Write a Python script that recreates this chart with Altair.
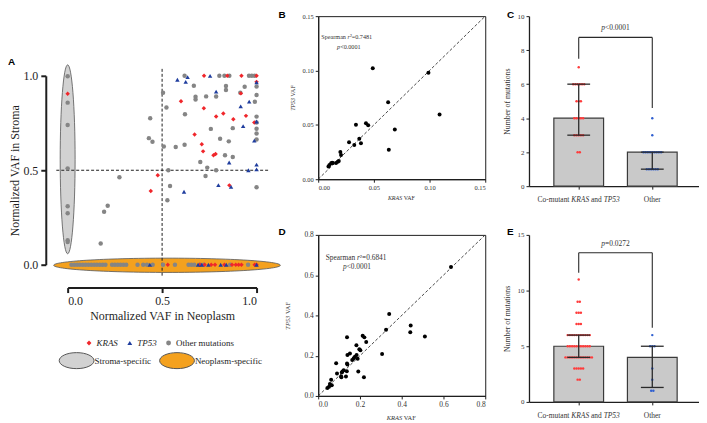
import altair as alt
import pandas as pd

SERIF = "Liberation Serif"
SANS = "Liberation Sans"
INK = "#1e1e1e"
TXT = "#333333"

# ======================= DATA =======================
# ---- Panel A : normalized VAF (neoplasm, stroma) ----
a_kras_x = [0.0, 0.722, 0.845, 0.92, 1.0, 1.0, 0.917, 0.60, 0.721, 0.786, 0.824, 0.877, 0.944, 0.988,
            0.672, 0.71, 0.717, 0.772, 0.783, 0.477, 0.44, 0.856,
            0.53, 0.70, 0.725, 0.76, 0.78, 0.83, 0.87, 0.89, 0.905, 0.92, 0.99, 1.0]
a_kras_y = [0.905, 1.0, 1.0, 1.0, 1.0, 0.968, 0.907, 0.865, 0.828, 0.785, 0.80, 0.77, 0.788, 0.753,
            0.689, 0.638, 0.60, 0.579, 0.586, 0.474, 0.39, 0.42,
            0.0, 0.0, 0.0, 0.0, 0.0, 0.0, 0.0, 0.0, 0.0, 0.0, 0.0, 0.0]
a_tp53_x = [0.581, 0.635, 0.625, 0.754, 1.0, 0.786, 0.916, 0.961, 0.929, 1.0, 0.988, 0.855, 0.957,
            1.0, 1.0, 0.798, 0.865, 0.616,
            0.435, 0.69, 0.71, 0.745, 0.81, 0.84, 1.0]
a_tp53_y = [0.979, 0.993, 0.968, 1.0, 0.965, 0.916, 0.838, 0.863, 0.734, 0.758, 0.657, 0.541, 0.5,
            0.53, 0.505, 0.421, 0.412, 0.386,
            0.0, 0.0, 0.0, 0.0, 0.0, 0.0, 0.0]
a_other_x = [0.0, 0.0, 0.0, 0.0, 0.0, 0.0, 0.0, 0.0,
             0.619, 0.803, 0.83, 0.856, 0.96, 0.975, 0.99, 0.668, 1.0, 0.937, 0.838, 0.838,
             0.786, 0.733, 0.677, 0.677, 0.505, 0.914, 1.0, 0.523, 0.991, 0.621, 1.0, 1.0,
             1.0, 1.0, 1.0, 0.874, 0.758, 0.807, 0.853, 0.437, 0.43, 0.449, 0.509, 0.572,
             0.619, 0.702, 0.833, 0.874, 0.739, 0.786, 0.73, 0.533, 0.274, 0.542, 0.528, 1.0,
             0.212, 0.193, 0.175,
             0.02, 0.035, 0.05, 0.065, 0.08, 0.095, 0.11, 0.125, 0.14, 0.155, 0.17, 0.185, 0.2,
             0.235, 0.25, 0.265, 0.28, 0.295, 0.31, 0.37, 0.40, 0.42, 0.45, 0.505, 0.568, 0.64,
             0.655, 0.67, 0.70, 0.72, 0.86, 0.955]
a_other_y = [0.998, 0.858, 0.74, 0.51, 0.31, 0.272, 0.13, 0.12,
             1.0, 1.0, 1.0, 1.0, 1.0, 1.0, 1.0, 0.947, 0.943, 0.942, 0.946, 0.925,
             0.89, 0.891, 0.889, 0.875, 0.91, 0.91, 0.898, 0.832, 0.863, 0.796, 0.784, 0.753,
             0.72, 0.695, 0.663, 0.723, 0.719, 0.667, 0.653, 0.775, 0.67, 0.651, 0.626, 0.623,
             0.635, 0.544, 0.579, 0.57, 0.514, 0.5, 0.47, 0.5, 0.463, 0.417, 0.341, 0.41,
             0.312, 0.28, 0.112,
             0.0, 0.0, 0.0, 0.0, 0.0, 0.0, 0.0, 0.0, 0.0, 0.0, 0.0, 0.0, 0.0,
             0.0, 0.0, 0.0, 0.0, 0.0, 0.0, 0.0, 0.0, 0.0, 0.0, 0.0, 0.0, 0.0,
             0.0, 0.0, 0.0, 0.0, 0.0, 0.0]
a_types = ["KRAS", "TP53", "Other mutations"]
a_kinds = ["Stroma-specific", "Neoplasm-specific"]
a_kind_center_x = [0.0, 0.526]
a_kind_center_y = [0.558, -0.003]
a_ticks = [0.0, 0.5, 1.0]
a_hline = [-0.06, 1.068, 0.5]     # x from, x to, y
a_vline = [0.5, -0.058, 1.042]    # x, y from, y to

# ---- Panel B : VAF KRAS vs TP53 ----
b_kras = [0.049, 0.099, 0.109, 0.0628, 0.0688, 0.0634, 0.0339, 0.0429, 0.0449, 0.0369, 0.0384,
          0.0324, 0.0277, 0.0199, 0.0205, 0.0185, 0.0176, 0.016, 0.0131, 0.0125, 0.0116, 0.0101, 0.0092]
b_tp53 = [0.102, 0.098, 0.0595, 0.0708, 0.0458, 0.027, 0.050, 0.0515, 0.0497, 0.0372, 0.033,
          0.0315, 0.0339, 0.025, 0.0223, 0.0168, 0.0161, 0.0149, 0.0149, 0.0152, 0.0146, 0.0131, 0.0116]
b_ticks = [0.0, 0.05, 0.10, 0.15]
b_stats = ["0.7481", "<0.0001"]

# ---- Panel D ----
d_kras = [0.636, 0.340, 0.443, 0.441, 0.511, 0.325, 0.306, 0.138, 0.213, 0.221, 0.230, 0.183, 0.197,
          0.202, 0.152, 0.140, 0.176, 0.184, 0.170, 0.189, 0.163, 0.138, 0.140, 0.086, 0.192, 0.219,
          0.137, 0.122, 0.116, 0.113, 0.090, 0.133, 0.110, 0.111, 0.062, 0.056, 0.065, 0.052, 0.044]
d_tp53 = [0.640, 0.407, 0.350, 0.316, 0.295, 0.329, 0.208, 0.292, 0.299, 0.291, 0.268, 0.252, 0.232,
          0.227, 0.211, 0.203, 0.195, 0.203, 0.187, 0.185, 0.179, 0.161, 0.156, 0.163, 0.121, 0.093,
          0.123, 0.128, 0.121, 0.117, 0.112, 0.097, 0.097, 0.093, 0.080, 0.059, 0.053, 0.046, 0.040]
d_ticks = [0.0, 0.2, 0.4, 0.6, 0.8]
d_stats = ["0.6841", "<0.0001"]

# ---- Panel C : number of mutations ----
c_bar = [4, 2]
c_err_lo = [3, 1]
c_err_hi = [6, 2]
c_comut = [7, 6, 6, 6, 6, 6, 6, 5, 5, 5, 4, 4, 4, 4, 4, 3, 3, 3, 3, 3, 2, 2]
c_other = [4, 3, 2, 2, 2, 2, 2, 2, 2, 2, 2, 1, 1, 1, 1, 1, 1]
c_bracket = [8.75, 7.5, 4.6]      # top, left end, right end
c_p = "<0.0001"
c_ticks = [0, 2, 4, 6, 8, 10]

# ---- Panel E ----
e_bar = [5, 4]
e_err_lo = [4, 1.3]
e_err_hi = [6, 5]
e_comut = [11, 9, 9, 8, 8, 8, 7, 7, 7,
           6, 6, 6, 6, 6, 6, 6, 6, 6, 6, 6,
           5, 5, 5, 5, 5, 5, 5, 5, 5, 5, 5,
           4, 4, 4, 4, 4, 4, 4, 4, 4, 4, 4, 4, 4,
           3, 3, 3, 3, 3, 2, 2]
e_other = [6, 5, 5, 5, 3, 2, 1, 1]
e_bracket = [13.4, 11.6, 6.66]
e_p = "=0.0272"
e_ticks = [0, 5, 10, 15]

# ======================= HELPERS =======================
TIMES = {' ': 250, '-': 333, '.': 250, '<': 564, '=': 564, '\u00b2': 300,
         'A': 722, 'C': 667, 'F': 556, 'K': 722, 'N': 722, 'O': 722, 'P': 556, 'R': 667,
         'S': 556, 'T': 611, 'V': 722,
         'a': 444, 'b': 500, 'd': 500, 'e': 444, 'f': 333, 'h': 500, 'i': 278, 'l': 278,
         'm': 778, 'n': 500, 'o': 500, 'p': 500, 'r': 333, 's': 389, 't': 278, 'u': 500, 'z': 444}
TIMES_I = {'K': 667, 'R': 611, 'A': 611, 'S': 500, 'T': 556, 'P': 611, 'r': 389, 'p': 500}


def tw(s, size, italic=False):
    tot = 0
    for ch in s:
        if italic and ch in TIMES_I:
            tot += TIMES_I[ch]
        elif ch.isdigit():
            tot += 500
        else:
            tot += TIMES.get(ch, 500)
    return tot * size / 1000.0


ONE = pd.DataFrame({"k": [0]})


def rich(pieces, size, x, y, data=ONE, color=TXT, angle=0):
    total = sum(tw(t, size, it) for t, it in pieces)
    off = -total / 2.0
    out = []
    for t, it in pieces:
        lead = len(t) - len(t.lstrip(" "))
        core = t.strip(" ")
        start = off + tw(" " * lead, size)
        out.append(alt.Chart(data).mark_text(
            text=core, align="left", baseline="middle", dx=start, angle=angle,
            font=SERIF, fontSize=size, fontStyle=("italic" if it else "normal"), color=color
        ).encode(x=x, y=y))
        off += tw(t, size, it)
    return out


def letter(ch, px, py):
    return alt.Chart(ONE).mark_text(text=ch, align="left", baseline="top", font=SANS,
                                    fontWeight="bold", fontSize=10, color="black").encode(
        x=alt.value(px), y=alt.value(py))


# ======================= PANEL A =======================
A_W, A_H = 208, 171
SXA = alt.Scale(domain=[0, 1], range=[0, 190], nice=False, zero=False)
SYA = alt.Scale(domain=[0, 1], range=[250, 60], nice=False, zero=False)
AXA_X = alt.Axis(values=a_ticks, format=".1f", offset=250 - A_H + 23, title="Normalized VAF in Neoplasm",
                 titleFont=SERIF, titleFontSize=12, titleFontWeight="normal", titleColor=INK,
                 titlePadding=4, labelFont=SERIF, labelFontSize=12, labelColor=INK, labelPadding=3,
                 tickSize=5, tickWidth=2, tickColor=INK, domainWidth=2, domainColor=INK, grid=False)
AXA_Y = alt.Axis(values=a_ticks, format=".1f", offset=22, title="Normalized VAF in Stroma",
                 titleFont=SERIF, titleFontSize=12, titleFontWeight="normal", titleColor=INK,
                 titlePadding=1, labelFont=SERIF, labelFontSize=12, labelColor=INK, labelPadding=3,
                 tickSize=5, tickWidth=2, tickColor=INK, domainWidth=2, domainColor=INK, grid=False)


def xa(f):
    return alt.X(f, type="quantitative", scale=SXA, axis=AXA_X)


def ya(f):
    return alt.Y(f, type="quantitative", scale=SYA, axis=AXA_Y)


pts = pd.concat([
    pd.DataFrame({"x": a_other_x, "y": a_other_y, "type": "Other mutations"}),
    pd.DataFrame({"x": a_kras_x, "y": a_kras_y, "type": "KRAS"}),
    pd.DataFrame({"x": a_tp53_x, "y": a_tp53_y, "type": "TP53"}),
], ignore_index=True)

ell = pd.DataFrame({"x": a_kind_center_x, "y": a_kind_center_y, "kind": a_kinds})
PATH_V = "M0,-1 A0.079,1 0 1,1 0,1 A0.079,1 0 1,1 0,-1 Z"
PATH_H = "M-1,0 A1,0.063 0 1,1 1,0 A1,0.063 0 1,1 -1,0 Z"
PATH_LEG = "M-1,0 A1,0.46 0 1,1 1,0 A1,0.46 0 1,1 -1,0 Z"

FILL_SCALE = alt.Scale(domain=a_kinds, range=["#d2d2d2", "#f4a11e"])
LEG_ELL = alt.Legend(orient="none", legendX=-9, legendY=328, direction="horizontal", title=None,
                     symbolType=PATH_LEG, symbolSize=1225, symbolStrokeColor="#555555",
                     symbolStrokeWidth=1, symbolOpacity=1, labelFont=SERIF, labelFontSize=9,
                     labelColor=INK, labelOffset=0, columnPadding=6, padding=0)

ell_v = alt.Chart(ell.iloc[[0]]).mark_point(shape=PATH_V, size=36100, filled=True, opacity=1,
                                            stroke="#555555", strokeWidth=0.8).encode(
    x=xa("x"), y=ya("y"), fill=alt.Fill("kind:N", scale=FILL_SCALE, legend=LEG_ELL))
ell_h = alt.Chart(ell.iloc[[1]]).mark_point(shape=PATH_H, size=51984, filled=True, opacity=1,
                                            stroke="#555555", strokeWidth=0.8).encode(
    x=xa("x"), y=ya("y"), fill=alt.Fill("kind:N", scale=FILL_SCALE, legend=LEG_ELL))

hl = alt.Chart(pd.DataFrame({"x": [a_hline[0]], "x2": [a_hline[1]], "y": [a_hline[2]]})).mark_rule(
    color=INK, strokeDash=[3, 2], strokeWidth=1).encode(x=xa("x"), x2="x2", y=ya("y"))
vl = alt.Chart(pd.DataFrame({"x": [a_vline[0]], "y": [a_vline[1]], "y2": [a_vline[2]]})).mark_rule(
    color=INK, strokeDash=[3, 2], strokeWidth=1).encode(x=xa("x"), y=ya("y"), y2="y2")

LEG_PTS = alt.Legend(orient="none", legendX=17, legendY=324, direction="horizontal", title=None,
                     symbolSize=24, labelFont=SERIF, labelFontSize=9, labelColor=INK,
                     labelFontWeight="normal",
                     labelFontStyle=alt.ExprRef("datum.label == 'Other mutations' ? 'normal' : 'italic'"),
                     labelOffset=3, columnPadding=7, padding=0)
points = alt.Chart(pts).mark_point(filled=True, opacity=1, size=20).encode(
    x=xa("x"), y=ya("y"),
    color=alt.Color("type:N", scale=alt.Scale(domain=a_types, range=["#f0262b", "#1f3d9e", "#858585"]),
                    legend=LEG_PTS),
    shape=alt.Shape("type:N", scale=alt.Scale(domain=a_types, range=["diamond", "triangle-up", "circle"]),
                    legend=LEG_PTS),
)

panelA = alt.layer(ell_v, ell_h, hl, vl, points, letter("A", -60, 41)).properties(width=A_W, height=A_H)


# ======================= PANELS B / D =======================
def scatter_panel(kx, ty, dmax, ticks, fmt, W, H, lab_size, title_size, ann_size,
                  ann_xy1, ann_xy2, stats, xt_dy, yt_dx, let, let_dy):
    S = alt.Scale(domain=[0, dmax], nice=False, zero=False)
    SY = alt.Scale(domain=[0, dmax], nice=False, zero=False)
    AX = alt.Axis(values=ticks, format=fmt, title=None, labelFont=SERIF, labelFontSize=lab_size,
                  labelColor=TXT, labelPadding=2, tickSize=3, tickColor=INK, domainColor=INK,
                  domainWidth=1.2, grid=False)

    def X(f):
        return alt.X(f, type="quantitative", scale=S, axis=AX)

    def Y(f):
        return alt.Y(f, type="quantitative", scale=SY, axis=AX)

    df = pd.DataFrame({"k": kx, "t": ty})
    diag = alt.Chart(pd.DataFrame({"x": [0.0], "y": [0.0], "x2": [dmax], "y2": [dmax]})).mark_rule(
        color="#333333", strokeDash=[3, 2], strokeWidth=0.9).encode(x=X("x"), y=Y("y"), x2="x2", y2="y2")
    dots = alt.Chart(df).mark_circle(size=16, color="black", opacity=1).encode(x=X("k"), y=Y("t"))
    a1 = pd.DataFrame({"x": [ann_xy1[0]], "y": [ann_xy1[1]]})
    a2 = pd.DataFrame({"x": [ann_xy2[0]], "y": [ann_xy2[1]]})
    layers = [diag, dots]
    layers += rich([("Spearman ", False), ("r", True), ("\u00b2=" + stats[0], False)], ann_size,
                   X("x"), Y("y"), data=a1)
    layers += rich([("p", True), (stats[1], False)], ann_size, X("x"), Y("y"), data=a2)
    layers += rich([("KRAS", True), (" VAF", False)], title_size, alt.value(W / 2), alt.value(H + xt_dy))
    layers += rich([("TP53", True), (" VAF", False)], title_size, alt.value(yt_dx), alt.value(H / 2),
                   angle=270)
    layers.append(letter(let, -40, let_dy))
    return alt.layer(*layers).properties(width=W, height=H,
                                         view=alt.ViewBackground(stroke=INK, strokeWidth=1))


panelB = scatter_panel(b_kras, b_tp53, 0.15, b_ticks, ".2f", 168, 164, 6.5, 6, 6.2,
                       (0.0262, 0.131), (0.0275, 0.122), b_stats, 19, -25, "B", -6)
panelD = scatter_panel(d_kras, d_tp53, 0.8, d_ticks, ".1f", 168, 162, 7.5, 6.5, 7.4,
                       (0.185, 0.684), (0.186, 0.639), d_stats, 22, -30, "D", -8)


# ======================= PANELS C / E =======================
def bar_panel(bar, lo, hi, comut, other, ymax, yticks, bracket, ptxt, W, H, let, let_dy):
    S = alt.Scale(domain=[-0.676, 1.635], nice=False, zero=False)
    SY = alt.Scale(domain=[0, ymax], nice=False, zero=True)
    AXX = alt.Axis(values=[0, 1], labels=False, title=None, tickSize=3, tickColor=INK,
                   domainColor=INK, domainWidth=1.3, grid=False)
    AXY = alt.Axis(values=yticks, title="Number of mutations", titleFont=SERIF, titleFontSize=7.8,
                   titleFontWeight="normal", titleColor=TXT, titlePadding=6, labelFont=SERIF,
                   labelFontSize=7, labelColor=TXT, labelPadding=2, tickSize=3, tickColor=INK,
                   domainColor=INK, domainWidth=1.3, grid=False)

    def X(f):
        return alt.X(f, type="quantitative", scale=S, axis=AXX)

    def Y(f):
        return alt.Y(f, type="quantitative", scale=SY, axis=AXY)

    pos = [0, 1]
    half = 0.338
    cap = 0.155
    bars = pd.DataFrame({"x": [p - half for p in pos], "x2": [p + half for p in pos],
                         "y": [0, 0], "y2": bar})
    rows = []
    step = 0.03
    for p, vals, grp in [(0, comut, "co"), (1, other, "ot")]:
        counts = pd.Series(vals).value_counts()
        for v, n in counts.items():
            for i in range(n):
                rows.append({"x": p + (i - (n - 1) / 2.0) * step, "y": v, "g": grp})
    dots = pd.DataFrame(rows)
    err_v = pd.DataFrame({"x": pos, "y": lo, "y2": hi})
    caps = pd.DataFrame({"x": [p - cap for p in pos] * 2, "x2": [p + cap for p in pos] * 2,
                         "y": list(lo) + list(hi)})
    br = pd.DataFrame({"x": [0, 0, 1], "x2": [1, 0, 1],
                       "y": [bracket[0], bracket[1], bracket[2]],
                       "y2": [bracket[0], bracket[0], bracket[0]]})

    l_bars = alt.Chart(bars).mark_rect(fill="#c9c9c9", stroke="#3a3a3a", strokeWidth=1.2).encode(
        x=X("x"), x2="x2", y=Y("y"), y2="y2")
    l_dots = alt.Chart(dots).mark_circle(size=6, opacity=1).encode(
        x=X("x"), y=Y("y"),
        color=alt.Color("g:N", scale=alt.Scale(domain=["co", "ot"], range=["#ff3b3b", "#2f5fd0"]),
                        legend=None))
    l_ev = alt.Chart(err_v).mark_rule(color="#2a2a2a", strokeWidth=1.3).encode(
        x=X("x"), y=Y("y"), y2="y2")
    l_caps = alt.Chart(caps).mark_rule(color="#2a2a2a", strokeWidth=1.3).encode(
        x=X("x"), x2="x2", y=Y("y"))
    l_br = alt.Chart(br).mark_rule(color="#2a2a2a", strokeWidth=1.1).encode(
        x=X("x"), x2="x2", y=Y("y"), y2="y2")
    layers = [l_bars, l_dots, l_ev, l_caps, l_br]
    pdf = pd.DataFrame({"x": [0.5], "y": [bracket[0] + ymax * 0.055]})
    layers += rich([("p", True), (ptxt, False)], 7.5, X("x"), Y("y"), data=pdf)
    c0 = pd.DataFrame({"x": [0]})
    c1 = pd.DataFrame({"x": [1]})
    layers += rich([("Co-mutant ", False), ("KRAS", True), (" and ", False), ("TP53", True)], 7.5,
                   X("x"), alt.value(H + 14), data=c0)
    layers += rich([("Other", False)], 7.5, X("x"), alt.value(H + 14), data=c1)
    layers.append(letter(let, -22, let_dy))
    return alt.layer(*layers).properties(width=W, height=H)


panelC = bar_panel(c_bar, c_err_lo, c_err_hi, c_comut, c_other, 10, c_ticks, c_bracket, c_p,
                   171, 171, "C", -6)
panelE = bar_panel(e_bar, e_err_lo, e_err_hi, e_comut, e_other, 15, e_ticks, e_bracket, e_p,
                   171, 168, "E", -8)

blank = alt.Chart(ONE).mark_point(opacity=0).encode(x=alt.value(0), y=alt.value(0)).properties(
    width=A_W, height=162)

chart = alt.concat(panelA, panelB, panelC, blank, panelD, panelE, columns=3,
                   spacing={"row": 49, "column": 44}, bounds="flush").resolve_scale(
    color="independent", fill="independent", shape="independent"
).properties(padding=0, background="white").configure_view(stroke=None).configure_axis(grid=False)

chart.save("out.html", embed_options={"renderer": "svg", "actions": False})
